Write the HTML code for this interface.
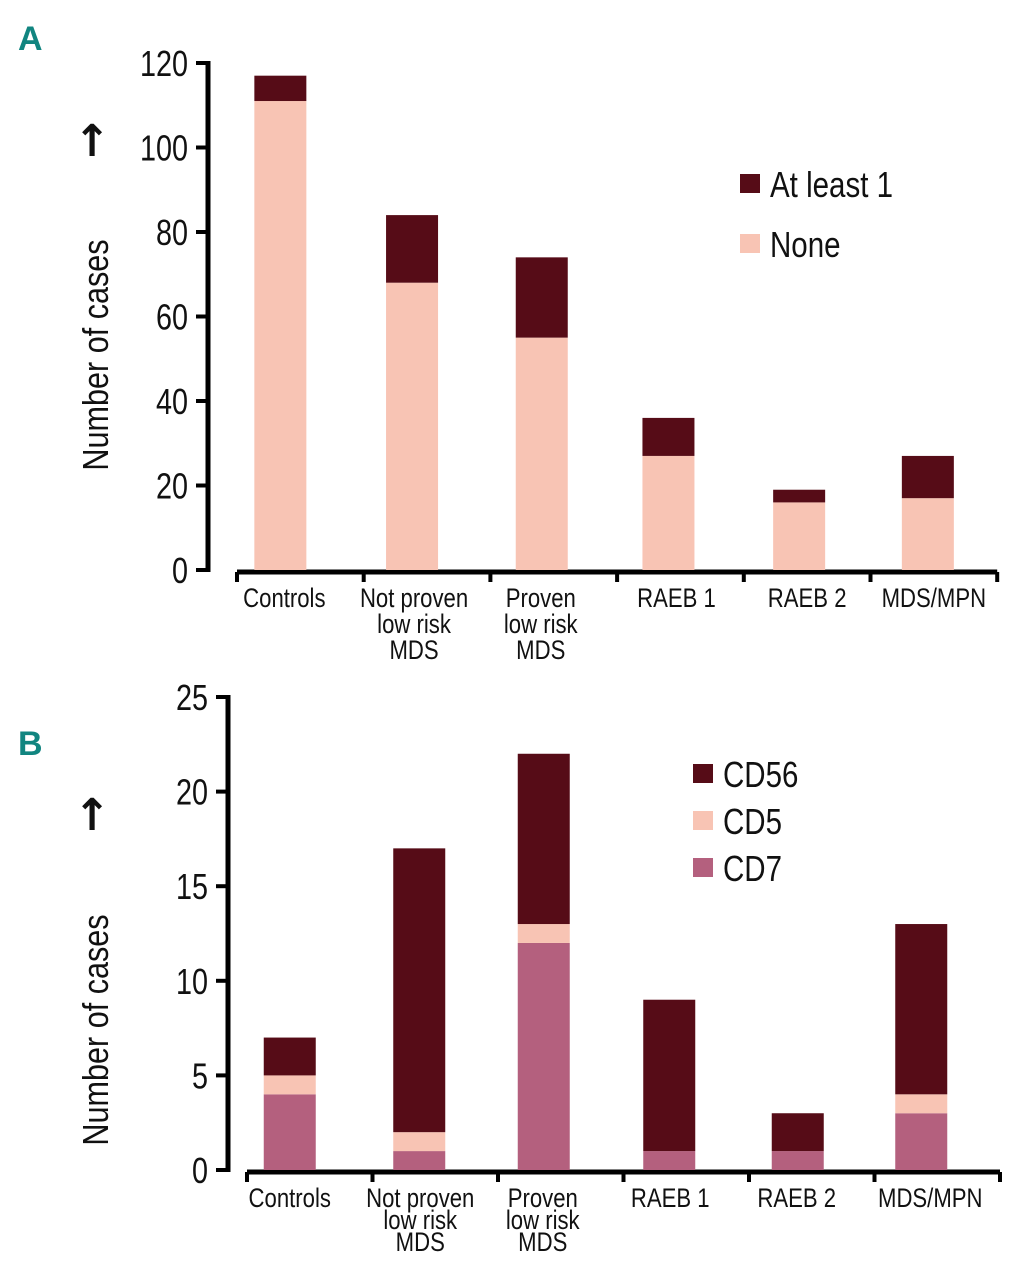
<!DOCTYPE html>
<html><head><meta charset="utf-8">
<style>
html,body{margin:0;padding:0;background:#fff;}
svg{display:block;font-family:"Liberation Sans",sans-serif;}
</style></head>
<body>
<svg id="fig" width="1010" height="1280" viewBox="0 0 1010 1280" xmlns="http://www.w3.org/2000/svg">
<text x="18" y="50" font-size="34" font-weight="bold" fill="#118580">A</text>
<text x="18" y="755" font-size="34" font-weight="bold" fill="#118580">B</text>
<g id="chartA"></g>
<g id="chartB"></g>
</svg>
<script>
const categories = [["Controls"],["Not proven","low risk","MDS"],["Proven","low risk","MDS"],["RAEB 1"],["RAEB 2"],["MDS/MPN"]];
const aNone = [111, 68, 55, 27, 16, 17];
const aAtLeast1 = [6, 16, 19, 9, 3, 10];
const aTicks = [0, 20, 40, 60, 80, 100, 120];
const bCD7 = [4, 1, 12, 1, 1, 3];
const bCD5 = [1, 1, 1, 0, 0, 1];
const bCD56 = [2, 15, 9, 8, 2, 9];
const bTicks = [0, 5, 10, 15, 20, 25];

const NS = "http://www.w3.org/2000/svg";
function mk(tag, attrs, parent, text){
  const e = document.createElementNS(NS, tag);
  for (const k in attrs) e.setAttribute(k, attrs[k]);
  if (text !== undefined) e.textContent = text;
  parent.appendChild(e);
  return e;
}
function txt(parent, x, y, size, anchor, str, sx, rot){
  const tr = `translate(${x},${y})` + (rot ? ' rotate(-90)' : '') + ` scale(${sx},1)`;
  return mk('text', {x: 0, y: 0, 'font-size': size, 'text-anchor': anchor, fill: '#111', transform: tr}, parent, str);
}

function drawChart(g, cfg){
  const y = v => cfg.y0 - v / cfg.ymax * (cfg.y0 - cfg.ytop);
  const x = i => cfg.xStart + cfg.step * (i + 0.5);
  const ya = mk('line', {x1: cfg.ax, y1: y(cfg.ymax)-2, x2: cfg.ax, y2: y(0)+2, stroke: '#000', 'stroke-width': 5}, g);
  
  
  cfg.ticks.forEach(t => {
    const tl = mk('line', {x1: cfg.ax - 12, y1: y(t), x2: cfg.ax, y2: y(t), stroke: '#000', 'stroke-width': 4}, g);
    
    
    const tx = txt(g, cfg.ax - 20, y(t) + 13, 36, 'end', String(t), 0.8);
    
    
  });
  const xEnd = cfg.xStart + cfg.step * categories.length;
  const xa = mk('line', {x1: cfg.xStart, y1: cfg.xy, x2: xEnd, y2: cfg.xy, stroke: '#000', 'stroke-width': 5}, g);
  
  
  for (let i = 0; i <= categories.length; i++) {
    const tk = mk('line', {x1: cfg.xStart + cfg.step * i, y1: cfg.xy, x2: cfg.xStart + cfg.step * i, y2: cfg.xy + 10, stroke: '#000', 'stroke-width': 4}, g);
    
    
  }
  categories.forEach((c, i) => {
    c.forEach((line, j) => {
      const t = txt(g, x(i) + cfg.lblDx[i], cfg.lblY + j * cfg.lblLH, 27, 'middle', line, 0.82);
      
      
    });
  });
  categories.forEach((c, i) => {
    let base = 0;
    cfg.series.forEach(s => {
      const v = s.values[i];
      if (v > 0) {
        const r = mk('rect', {x: x(i) + cfg.barDx[i] - cfg.bw / 2, y: y(base + v), width: cfg.bw, height: y(base) - y(base + v), fill: s.color}, g);
        
        
      }
      base += v;
    });
  });
  const tt = txt(g, cfg.titleX, cfg.titleY, 36, 'middle', 'Number of cases', 0.85, true);
  
  
  const ar = mk('text', {x: cfg.arrowX, y: cfg.arrowY, 'font-size': 44, 'font-weight': 'bold', 'text-anchor': 'middle', fill: '#111', 'font-family': 'DejaVu Sans,sans-serif'}, g, '↑');
  
  
  cfg.legend.forEach((L, k) => {
    const ly = cfg.legY + k * cfg.legStep;
    const sq = mk('rect', {x: cfg.legX, y: ly - 10, width: 20, height: 19, fill: L.color}, g);
    
    
    const lt = txt(g, cfg.legX + 30, ly + 13, 36, 'start', L.label, 0.82);
    
    
  });
}

const DARK = '#560c17', LIGHT = '#f8c4b4', ROSE = '#b4607e';

drawChart(document.getElementById('chartA'), {
  ax: 208, y0: 570, ytop: 63, ymax: 120, ticks: aTicks,
  xStart: 237, step: 126.7, xy: 572, bw: 52,
  barDx: [-20, -15, -12, -12, -8, -6],
  lblDx: [-16, -13, -13, -4, 0, 0],
  lblY: 607, lblLH: 26,
  series: [{key: 'none', values: aNone, color: LIGHT}, {key: 'at-least-1', values: aAtLeast1, color: DARK}],
  titleX: 108, titleY: 355, arrowX: 92, arrowY: 156,
  legX: 740, legY: 184, legStep: 60,
  legend: [{key: 'at-least-1', label: 'At least 1', color: DARK}, {key: 'none', label: 'None', color: LIGHT}]
});

drawChart(document.getElementById('chartB'), {
  ax: 228, y0: 1170, ytop: 697, ymax: 25, ticks: bTicks,
  xStart: 247, step: 125.5, xy: 1172, bw: 52,
  barDx: [-20, -16, -17, -17, -14, -16],
  lblDx: [-20, -15, -18, -16, -15, -7],
  lblY: 1207, lblLH: 22,
  series: [{key: 'cd7', values: bCD7, color: ROSE}, {key: 'cd5', values: bCD5, color: LIGHT}, {key: 'cd56', values: bCD56, color: DARK}],
  titleX: 108, titleY: 1030, arrowX: 92, arrowY: 830,
  legX: 693, legY: 774, legStep: 47,
  legend: [{key: 'cd56', label: 'CD56', color: DARK}, {key: 'cd5', label: 'CD5', color: LIGHT}, {key: 'cd7', label: 'CD7', color: ROSE}]
});
</script>
</body></html>
